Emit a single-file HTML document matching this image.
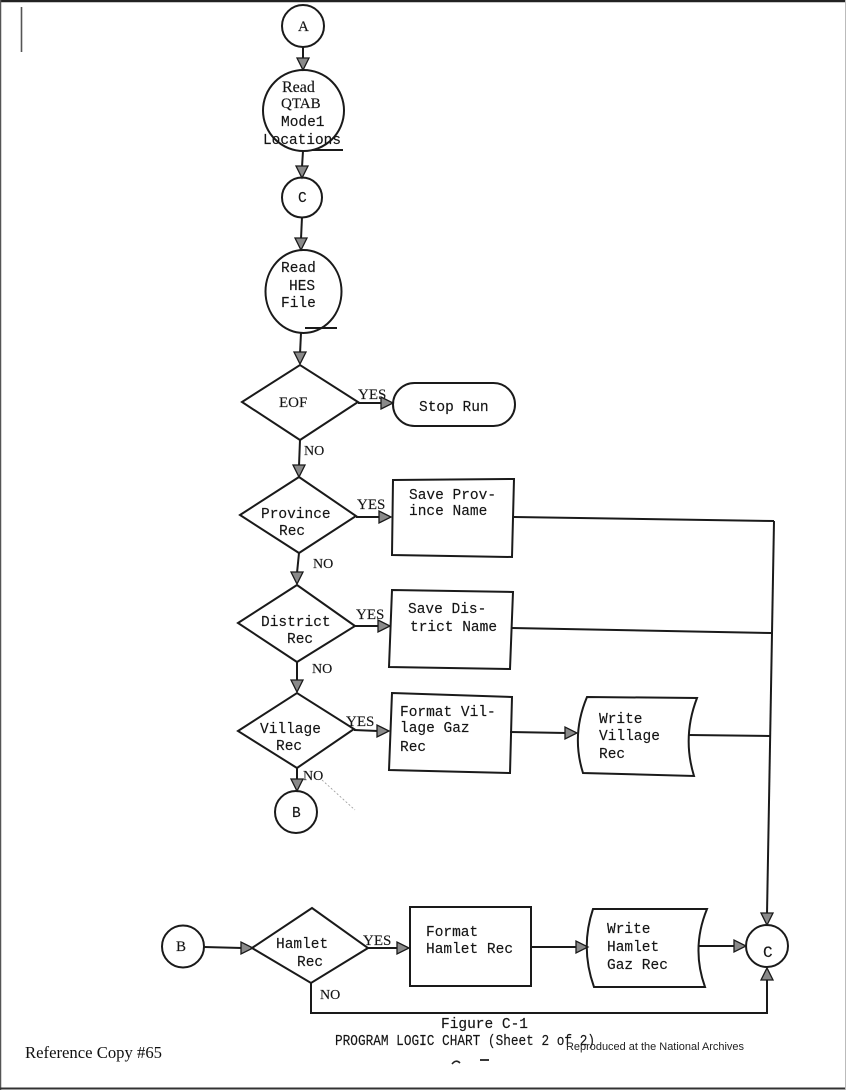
<!DOCTYPE html>
<html>
<head>
<meta charset="utf-8">
<style>
  html,body{margin:0;padding:0;background:#fff;}
  body{width:846px;height:1090px;overflow:hidden;}
  svg{display:block;}
  .m{font-family:"Liberation Mono",monospace;font-size:14.5px;fill:#151515;stroke:#151515;stroke-width:0.15;}
  .s{font-family:"Liberation Serif",serif;font-size:15px;fill:#151515;stroke:#151515;stroke-width:0.15;}
  .sh{fill:none;stroke:#1a1a1a;stroke-width:2;}
  .ln{fill:none;stroke:#1a1a1a;stroke-width:2;}
  .ah{fill:#8a8a8a;stroke:#1a1a1a;stroke-width:1.3;stroke-linejoin:miter;}
</style>
</head>
<body>
<svg width="846" height="1090" viewBox="0 0 846 1090" xmlns="http://www.w3.org/2000/svg">
  <rect x="0" y="0" width="846" height="1090" fill="#ffffff"/>
  <!-- page borders -->
  <line x1="0" y1="1" x2="846" y2="1" stroke="#222" stroke-width="2.5"/>
  <line x1="0.5" y1="0" x2="0.5" y2="1090" stroke="#555" stroke-width="1.5"/>
  <line x1="0" y1="1088.5" x2="846" y2="1088.5" stroke="#333" stroke-width="2"/>
  <line x1="845.5" y1="0" x2="845.5" y2="1090" stroke="#bbb" stroke-width="1"/>
  <line x1="21.5" y1="7" x2="21.5" y2="52" stroke="#555" stroke-width="1.6"/>

  <!-- A -->
  <circle class="sh" cx="303" cy="26" r="21"/>
  <text class="s" x="298" y="31">A</text>
  <line class="ln" x1="303" y1="47" x2="303" y2="60"/>
  <polygon class="ah" points="297,58 309,58 303,70"/>

  <!-- Read QTAB -->
  <circle class="sh" cx="303.5" cy="110.5" r="40.5"/>
  <line class="ln" x1="312" y1="150" x2="343" y2="150"/>
  <text class="s" x="282" y="92" style="font-size:16px">Read</text>
  <text class="s" x="281" y="108" style="font-size:15px">QTAB</text>
  <text class="m" x="281" y="126">Mode1</text>
  <text class="m" x="263" y="144" textLength="78" lengthAdjust="spacingAndGlyphs">Locations</text>
  <line class="ln" x1="303" y1="151" x2="302" y2="167"/>
  <polygon class="ah" points="296,166 308,166 302,178"/>

  <!-- C -->
  <circle class="sh" cx="302" cy="197.5" r="20"/>
  <text class="m" x="298" y="202">C</text>
  <line class="ln" x1="302" y1="217" x2="301" y2="239"/>
  <polygon class="ah" points="295,238 307,238 301,250"/>

  <!-- Read HES File -->
  <ellipse class="sh" cx="303.5" cy="291.5" rx="38" ry="41.5"/>
  <line class="ln" x1="305" y1="328" x2="337" y2="328"/>
  <text class="m" x="281" y="272">Read</text>
  <text class="m" x="289" y="290">HES</text>
  <text class="m" x="281" y="307">File</text>
  <line class="ln" x1="301" y1="333" x2="300" y2="354"/>
  <polygon class="ah" points="294,352 306,352 300,364"/>

  <!-- EOF -->
  <polygon class="sh" points="242,402 300,365 358,402 300,440"/>
  <text class="s" x="279" y="407">EOF</text>
  <text class="s" x="358" y="399">YES</text>
  <line class="ln" x1="358" y1="403" x2="382" y2="403"/>
  <polygon class="ah" points="381,397 381,409 393,403"/>
  <rect class="sh" x="393" y="383" width="122" height="43" rx="21.5" ry="21.5"/>
  <text class="m" x="419" y="411">Stop Run</text>
  <text class="s" x="304" y="455" style="font-size:14px">NO</text>
  <line class="ln" x1="300" y1="440" x2="299" y2="466"/>
  <polygon class="ah" points="293,465 305,465 299,477"/>

  <!-- Province -->
  <polygon class="sh" points="240,515 299,477 356,516 299,553"/>
  <text class="m" x="261" y="518">Province</text>
  <text class="m" x="279" y="535">Rec</text>
  <text class="s" x="357" y="509">YES</text>
  <line class="ln" x1="356" y1="517" x2="380" y2="517"/>
  <polygon class="ah" points="379,511 379,523 391,517"/>
  <polygon class="sh" points="393,480 514,479 512,557 392,555"/>
  <text class="m" x="409" y="499">Save Prov-</text>
  <text class="m" x="409" y="515">ince Name</text>
  <line class="ln" x1="514" y1="517" x2="774" y2="521"/>
  <text class="s" x="313" y="568" style="font-size:14px">NO</text>
  <line class="ln" x1="299" y1="553" x2="297" y2="573"/>
  <polygon class="ah" points="291,572 303,572 297,584"/>

  <!-- District -->
  <polygon class="sh" points="238,623 297,585 355,626 297,662"/>
  <text class="m" x="261" y="626">District</text>
  <text class="m" x="287" y="643">Rec</text>
  <text class="s" x="356" y="619">YES</text>
  <line class="ln" x1="355" y1="626" x2="379" y2="626"/>
  <polygon class="ah" points="378,620 378,632 390,626"/>
  <polygon class="sh" points="392,590 513,592 510,669 389,667"/>
  <text class="m" x="408" y="613">Save Dis-</text>
  <text class="m" x="410" y="631">trict Name</text>
  <line class="ln" x1="512" y1="628" x2="771" y2="633"/>
  <text class="s" x="312" y="673" style="font-size:14px">NO</text>
  <line class="ln" x1="297" y1="662" x2="297" y2="681"/>
  <polygon class="ah" points="291,680 303,680 297,692"/>

  <!-- Village -->
  <polygon class="sh" points="238,731 297,693 354,729 297,768"/>
  <text class="m" x="260" y="733">Village</text>
  <text class="m" x="276" y="750">Rec</text>
  <text class="s" x="346" y="726">YES</text>
  <line class="ln" x1="354" y1="730" x2="378" y2="731"/>
  <polygon class="ah" points="377,725 377,737 389,731"/>
  <polygon class="sh" points="392,693 512,697 510,773 389,770"/>
  <text class="m" x="400" y="716">Format Vil-</text>
  <text class="m" x="400" y="732">lage Gaz</text>
  <text class="m" x="400" y="751">Rec</text>
  <line class="ln" x1="510" y1="732" x2="566" y2="733"/>
  <polygon class="ah" points="565,727 565,739 577,733"/>
  <path class="sh" d="M587,697 L697,698 Q682,737 694,776 L583,773 Q571,735 587,697 Z"/>
  <text class="m" x="599" y="723">Write</text>
  <text class="m" x="599" y="740">Village</text>
  <text class="m" x="599" y="758">Rec</text>
  <line class="ln" x1="689" y1="735" x2="770" y2="736"/>
  <text class="s" x="303" y="780" style="font-size:14px">NO</text>
  <line x1="322" y1="780" x2="355" y2="810" stroke="#999" stroke-width="0.8" stroke-dasharray="2,2"/>
  <line class="ln" x1="297" y1="768" x2="297" y2="780"/>
  <polygon class="ah" points="291,779 303,779 297,791"/>
  <circle class="sh" cx="296" cy="812" r="21"/>
  <text class="m" x="292" y="817">B</text>

  <!-- right collector line -->
  <line class="ln" x1="774" y1="521" x2="767" y2="914"/>
  <polygon class="ah" points="761,913 773,913 767,925"/>

  <!-- Hamlet row -->
  <circle class="sh" cx="183" cy="946.5" r="21"/>
  <text class="s" x="176" y="951">B</text>
  <line class="ln" x1="204" y1="947" x2="242" y2="948"/>
  <polygon class="ah" points="241,942 241,954 253,948"/>
  <polygon class="sh" points="252,948 312,908 368,948 311,983"/>
  <text class="m" x="276" y="948">Hamlet</text>
  <text class="m" x="297" y="966">Rec</text>
  <text class="s" x="363" y="945">YES</text>
  <line class="ln" x1="368" y1="948" x2="398" y2="948"/>
  <polygon class="ah" points="397,942 397,954 409,948"/>
  <rect class="sh" x="410" y="907" width="121" height="79"/>
  <text class="m" x="426" y="936">Format</text>
  <text class="m" x="426" y="953">Hamlet Rec</text>
  <line class="ln" x1="531" y1="947" x2="577" y2="947"/>
  <polygon class="ah" points="576,941 576,953 588,947"/>
  <path class="sh" d="M593,909 L707,909 Q691,948 705,987 L594,987 Q580,948 593,909 Z"/>
  <text class="m" x="607" y="933">Write</text>
  <text class="m" x="607" y="951">Hamlet</text>
  <text class="m" x="607" y="969">Gaz Rec</text>
  <line class="ln" x1="698" y1="946" x2="735" y2="946"/>
  <polygon class="ah" points="734,940 734,952 746,946"/>
  <circle class="sh" cx="767" cy="946" r="21"/>
  <text class="m" x="763" y="957" style="font-size:16px">C</text>
  <polyline class="ln" points="311,983 311,1013 767,1013 767,979"/>
  <polygon class="ah" points="761,980 773,980 767,968"/>
  <text class="s" x="320" y="999" style="font-size:14px">NO</text>

  <!-- captions -->
  <text class="m" x="441" y="1028" textLength="87" lengthAdjust="spacingAndGlyphs">Figure C-1</text>
  <text class="m" x="335" y="1045" textLength="260" lengthAdjust="spacingAndGlyphs">PROGRAM LOGIC CHART (Sheet 2 of 2)</text>
  <text x="566" y="1050" style="font-family:'Liberation Sans',sans-serif;font-size:11px;fill:#222" textLength="178" lengthAdjust="spacingAndGlyphs">Reproduced at the National Archives</text>
  <text x="25" y="1058" style="font-family:'Liberation Serif',serif;font-size:17px;fill:#111" textLength="137" lengthAdjust="spacingAndGlyphs">Reference Copy #65</text>
  <path d="M452,1064 Q456,1059 460,1063" fill="none" stroke="#222" stroke-width="1.6"/>
  <line x1="480" y1="1060" x2="489" y2="1060" stroke="#222" stroke-width="1.8"/>
</svg>
</body>
</html>
